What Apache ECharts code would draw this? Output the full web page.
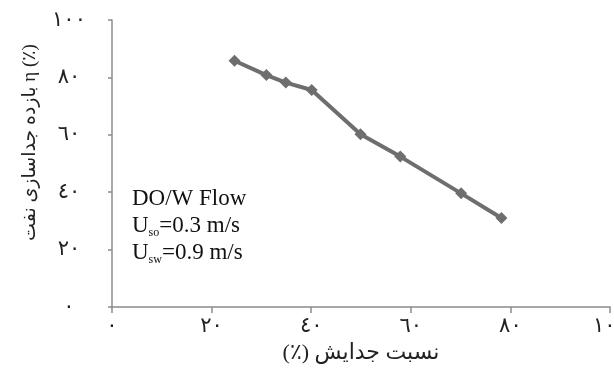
<!DOCTYPE html>
<html>
<head>
<meta charset="utf-8">
<script src="https://cdn.jsdelivr.net/npm/echarts@6/dist/echarts.min.js"></script>
<style>
  html, body { margin: 0; padding: 0; background: #fff; }
  #chart { width: 614px; height: 369px; }
</style>
</head>
<body>
<div id="chart"></div>
<script>
// separation ratio (%) vs oil separation efficiency (%)
var ratio = [24.6, 31.0, 34.9, 40.1, 49.9, 57.9, 70.1, 78.2];
var efficiency = [85.8, 80.8, 78.2, 75.6, 60.2, 52.4, 39.6, 31.0];
var tickLabels = { 0: "٠", 20: "٢٠", 40: "٤٠", 60: "٦٠", 80: "٨٠", 100: "١٠٠" };

var fontFam = "'Liberation Serif', 'DejaVu Sans', serif";
var axisGray = "#8c8c8c";

var chart = echarts.init(document.getElementById("chart"));
chart.setOption({
  animation: false,
  grid: { left: 112, right: 4, top: 20, bottom: 62, outerBoundsMode: "none" },
  xAxis: {
    type: "value",
    min: 0, max: 100, interval: 20,
    name: "(٪) نسبت جدایش",
    nameLocation: "middle",
    nameGap: 33,
    nameTextStyle: { fontFamily: fontFam, fontSize: 22, color: "#222" },
    axisLine: { lineStyle: { color: axisGray, width: 1.5 } },
    axisTick: { show: true, length: 6, lineStyle: { color: axisGray, width: 1.5 } },
    axisLabel: {
      margin: 9,
      fontFamily: fontFam, fontSize: 21, color: "#222",
      formatter: function (v) { return tickLabels[v]; }
    },
    splitLine: { show: false }
  },
  yAxis: {
    type: "value",
    min: 0, max: 100, interval: 20,
    name: "بازده جداسازی نفت η (٪)",
    nameLocation: "middle",
    nameGap: 72,
    nameTextStyle: { fontFamily: fontFam, fontSize: 19, color: "#222", padding: [0, 0, 0, 42] },
    axisLine: { show: true, lineStyle: { color: axisGray, width: 1.5 } },
    axisTick: { show: true, length: 4, lineStyle: { color: axisGray, width: 1.5 } },
    axisLabel: {
      margin: 43, align: "center",
      fontFamily: fontFam, fontSize: 21, color: "#222",
      formatter: function (v) { return tickLabels[v]; }
    },
    splitLine: { show: false }
  },
  graphic: [{
    type: "text",
    left: 132, top: 187,
    style: {
      text: "{t|DO/W Flow}\n{t|U}{s|so}{t|=0.3 m/s}\n{t|U}{s|sw}{t|=0.9 m/s}",
      rich: {
        t: { fontFamily: fontFam, fontSize: 23, fill: "#111", lineHeight: 27 },
        s: { fontFamily: fontFam, fontSize: 12, fill: "#111", lineHeight: 27, padding: [14, 0, 0, 0] }
      }
    }
  }],
  series: [{
    type: "line",
    data: ratio.map(function (x, i) { return [x, efficiency[i]]; }),
    symbol: "diamond",
    symbolSize: 12,
    itemStyle: { color: "#6e6e6e" },
    lineStyle: { color: "#6e6e6e", width: 4 }
  }]
});
</script>
</body>
</html>
